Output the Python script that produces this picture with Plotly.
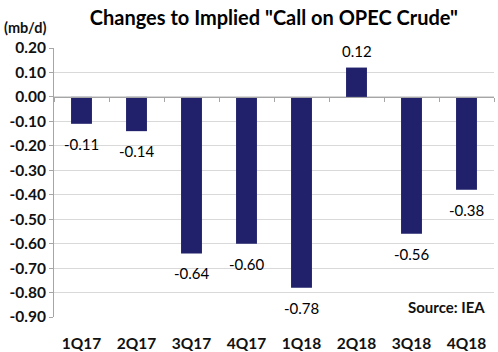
import plotly.graph_objects as go

categories = ["1Q17", "2Q17", "3Q17", "4Q17", "1Q18", "2Q18", "3Q18", "4Q18"]
values = [-0.11, -0.14, -0.64, -0.60, -0.78, 0.12, -0.56, -0.38]
labels = ["-0.11", "-0.14", "-0.64", "-0.60", "-0.78", "0.12", "-0.56", "-0.38"]
ytick_vals = [0.2, 0.1, 0.0, -0.1, -0.2, -0.3, -0.4, -0.5, -0.6, -0.7, -0.8, -0.9]
ytick_text = ["0.20", "0.10", "0.00", "-0.10", "-0.20", "-0.30", "-0.40", "-0.50",
              "-0.60", "-0.70", "-0.80", "-0.90"]

FONT = "Lato, 'Open Sans', sans-serif"
ymin, ymax = -0.9, 0.2

fig = go.Figure()
fig.add_trace(go.Bar(
    x=categories, y=values,
    marker=dict(color="#20206B", line=dict(width=0)),
    width=0.38,
))
# zero line axis with ticks between categories
fig.add_trace(go.Scatter(x=categories, y=[None]*len(categories), xaxis="x2",
                         showlegend=False, hoverinfo="skip"))

annotations = [
    dict(x=c, y=v, xref="x", yref="y", text=t, showarrow=False,
         xanchor="center", yanchor="middle", yshift=(17 if v >= 0 else -20),
         font=dict(family=FONT, size=15, color="#000000"))
    for c, v, t in zip(categories, values, labels)
]
annotations += [
    dict(text="(mb/d)", xref="paper", yref="paper", x=-0.118, y=1.077,
         xanchor="left", yanchor="middle", showarrow=False,
         font=dict(family=FONT, size=14.5, color="#111111", weight="bold")),
    dict(text="Source: IEA", xref="paper", yref="paper", x=0.985, y=0.037,
         xanchor="right", yanchor="middle", showarrow=False,
         font=dict(family=FONT, size=15, color="#111111", weight="bold")),
]

fig.update_layout(
    width=498, height=352,
    margin=dict(l=54, r=4, t=48, b=35),
    paper_bgcolor="white", plot_bgcolor="white",
    showlegend=False,
    title=dict(text='Changes to Implied "Call on OPEC Crude"', x=0.55, xanchor="center",
               y=0.95, yanchor="middle",
               font=dict(family=FONT, size=20, color="#000000", weight="bold")),
    xaxis=dict(showline=False, showgrid=False, ticks="", automargin=False,
               tickfont=dict(family=FONT, size=15.5, color="#111111", weight="bold"),
               ticklabelstandoff=15, fixedrange=True),
    xaxis2=dict(overlaying="x", anchor="free", position=(0 - ymin) / (ymax - ymin),
                showline=True, linecolor="#A6A6A6", linewidth=1,
                ticks="outside", ticklen=4, tickcolor="#A6A6A6", tickson="boundaries",
                showticklabels=False, showgrid=False, categoryorder="array",
                categoryarray=categories, matches="x"),
    yaxis=dict(range=[ymin, ymax], tickvals=ytick_vals, ticktext=ytick_text,
               showgrid=True, gridcolor="#D9D9D9", gridwidth=1,
               showline=True, linecolor="#A6A6A6", linewidth=1,
               ticks="outside", ticklen=4, tickcolor="#A6A6A6",
               zeroline=False, automargin=False,
               tickfont=dict(family=FONT, size=15.5, color="#111111", weight="bold")),
    annotations=annotations,
)

fig.write_html("out.html")
